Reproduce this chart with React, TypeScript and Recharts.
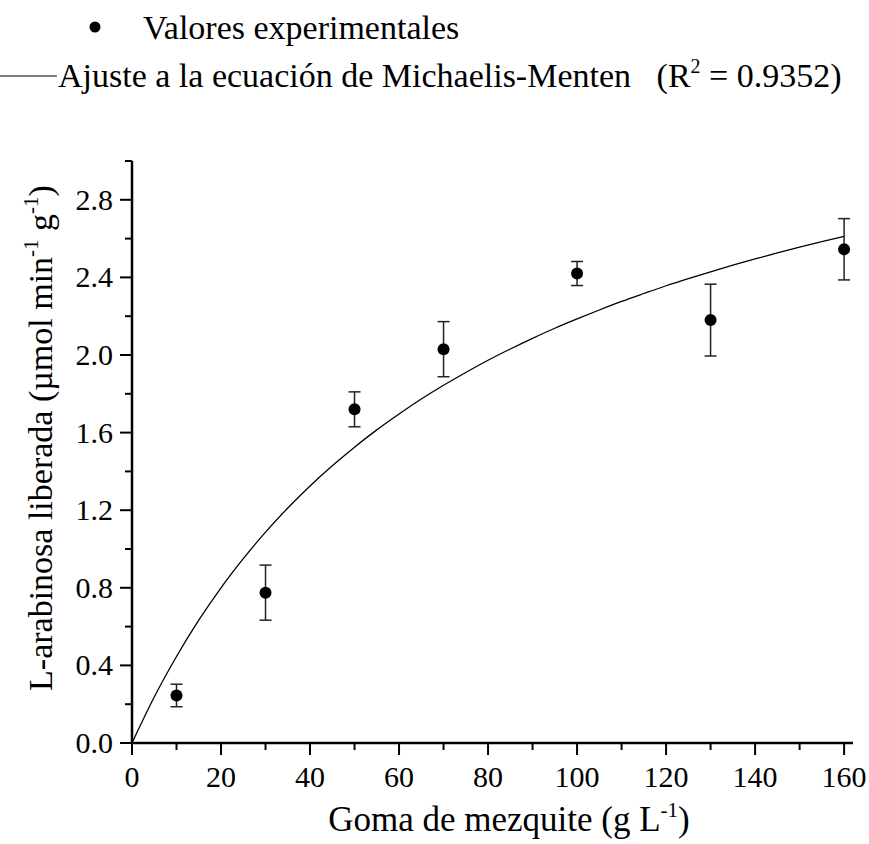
import React from 'react';
import { ComposedChart, Line, Scatter, XAxis, YAxis, ErrorBar } from 'recharts';

const FONT = '"Liberation Serif", "Times New Roman", serif';

// Experimental values
const substrate = [10, 30, 50, 70, 100, 130, 160];
const activity = [0.245, 0.775, 1.72, 2.03, 2.42, 2.18, 2.545];
const activityErr = [0.058, 0.142, 0.09, 0.142, 0.062, 0.185, 0.158];

// Fitted Michaelis-Menten curve
const fitX = [0, 5, 10, 15, 20, 25, 30, 35, 40, 45, 50, 55, 60, 65, 70, 75, 80, 85, 90, 95, 100, 105, 110, 115, 120, 125, 130, 135, 140, 145, 150, 155, 160];
const fitY = [0, 0.237, 0.446, 0.633, 0.8, 0.95, 1.087, 1.211, 1.325, 1.429, 1.525, 1.614, 1.696, 1.773, 1.844, 1.91, 1.973, 2.031, 2.086, 2.138, 2.186, 2.232, 2.276, 2.317, 2.357, 2.394, 2.429, 2.463, 2.495, 2.526, 2.556, 2.584, 2.611];

// Axis ticks
const xTicks = [0, 10, 20, 30, 40, 50, 60, 70, 80, 90, 100, 110, 120, 130, 140, 150, 160];
const xLabeled = [0, 20, 40, 60, 80, 100, 120, 140, 160];
const yTicks = [0, 0.2, 0.4, 0.6, 0.8, 1.0, 1.2, 1.4, 1.6, 1.8, 2.0, 2.2, 2.4, 2.6, 2.8, 3.0];
const yLabeled = [0, 0.4, 0.8, 1.2, 1.6, 2.0, 2.4, 2.8];

const points = substrate.map((x, i) => ({ x, y: activity[i], err: activityErr[i] }));
const curve = fitX.map((x, i) => ({ x, fit: fitY[i] }));

const isLabeled = (arr: number[], v: number) => arr.some((a) => Math.abs(a - v) < 1e-6);

const XTick = (props: any) => {
  const { x, y, payload } = props;
  const v = payload.value;
  const major = isLabeled(xLabeled, v);
  return (
    <g>
      <line x1={x} x2={x} y1={y} y2={y + (major ? 12 : 7)} stroke="#000" strokeWidth={2} />
      {major && (
        <text x={x} y={y + 44} textAnchor="middle" fontSize={30} fontFamily={FONT} fill="#000">
          {v}
        </text>
      )}
    </g>
  );
};

const YTick = (props: any) => {
  const { x, y, payload } = props;
  const v = payload.value;
  const major = isLabeled(yLabeled, v);
  return (
    <g>
      <line x1={x} x2={x - (major ? 12 : 7)} y1={y} y2={y} stroke="#000" strokeWidth={2} />
      {major && (
        <text x={x - 19} y={y + 10} textAnchor="end" fontSize={30} fontFamily={FONT} fill="#000">
          {v.toFixed(1)}
        </text>
      )}
    </g>
  );
};

const XTitle = () => (
  <text x={509} y={831} textAnchor="middle" fontSize={35} fontFamily={FONT} fill="#000">
    Goma de mezquite (g L
    <tspan dy={-14} fontSize={21}>-1</tspan>
    <tspan dy={14}>)</tspan>
  </text>
);

const YTitle = () => (
  <text
    x={0}
    y={0}
    transform="translate(52, 438) rotate(-90)"
    textAnchor="middle"
    fontSize={34}
    fontFamily={FONT}
    fill="#000"
  >
    L-arabinosa liberada (µmol min
    <tspan dy={-14} fontSize={21}>-1</tspan>
    <tspan dy={14}> g</tspan>
    <tspan dy={-14} fontSize={21}>-1</tspan>
    <tspan dy={14}>)</tspan>
  </text>
);

const Dot = (props: any) => {
  const { cx, cy } = props;
  return <circle cx={cx} cy={cy} r={6} fill="#000" />;
};

export default function App() {
  return (
    <div style={{ position: 'absolute', left: 0, top: 0, width: 869, height: 844, background: '#fff' }}>
      <svg width={869} height={110} style={{ position: 'absolute', left: 0, top: 0 }}>
        <circle cx={95} cy={27} r={5.5} fill="#000" />
        <text x={143} y={39} fontSize={34} fontFamily={FONT} fill="#000">
          Valores experimentales
        </text>
        <line x1={0} x2={57} y1={76} y2={76} stroke="#000" strokeWidth={1.2} />
        <text x={58} y={87} fontSize={34} fontFamily={FONT} fill="#000" style={{ whiteSpace: 'pre' }}>
          {'Ajuste a la ecuación de Michaelis-Menten   (R'}
          <tspan dy={-14} fontSize={20}>2</tspan>
          <tspan dy={14}>{' = 0.9352)'}</tspan>
        </text>
      </svg>
      <div style={{ position: 'absolute', left: 0, top: 0 }}>
        <ComposedChart width={869} height={844} margin={{ top: 161, right: 16, left: 0, bottom: 0 }}>
          <XAxis
            dataKey="x"
            type="number"
            domain={[0, 162]}
            ticks={xTicks}
            interval={0}
            tick={<XTick />}
            tickLine={false}
            tickSize={0}
            tickMargin={0}
            height={101}
            axisLine={{ stroke: '#000', strokeWidth: 2.5 }}
            allowDataOverflow
          />
          <YAxis
            type="number"
            domain={[0, 3]}
            ticks={yTicks}
            interval={0}
            tick={<YTick />}
            tickLine={false}
            tickSize={0}
            tickMargin={0}
            width={132}
            axisLine={{ stroke: '#000', strokeWidth: 2.5 }}
            allowDataOverflow
          />
          <Line
            data={curve}
            dataKey="fit"
            type="monotone"
            stroke="#000"
            strokeWidth={1.3}
            dot={false}
            activeDot={false}
            isAnimationActive={false}
          />
          <Scatter data={points} dataKey="y" shape={<Dot />} isAnimationActive={false}>
            <ErrorBar dataKey="err" direction="y" width={6} stroke="#222" strokeWidth={1.5} />
          </Scatter>
        </ComposedChart>
      </div>
      <svg width={869} height={844} style={{ position: 'absolute', left: 0, top: 0, pointerEvents: 'none' }}>
        <XTitle />
        <YTitle />
      </svg>
    </div>
  );
}
